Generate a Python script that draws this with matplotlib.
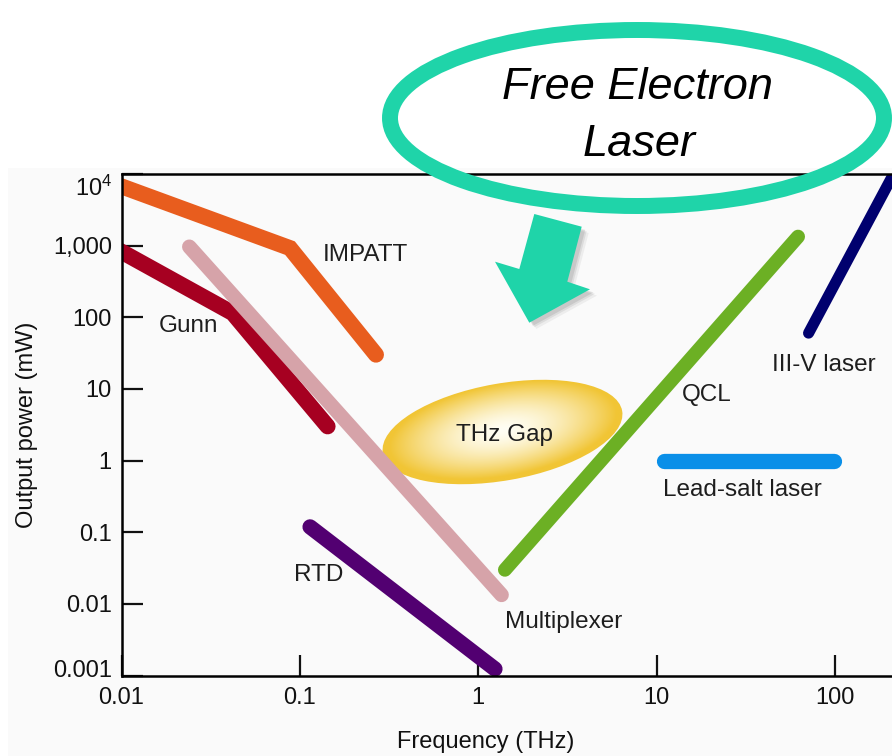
import numpy as np
import matplotlib
matplotlib.use('Agg')
import matplotlib.pyplot as plt
from matplotlib.patches import Ellipse, Polygon, Rectangle
from matplotlib.transforms import ScaledTranslation
from matplotlib.colors import to_rgb

plt.rcParams['font.family'] = ['Liberation Sans', 'DejaVu Sans']
plt.rcParams['mathtext.fontset'] = 'custom'
plt.rcParams['mathtext.rm'] = 'Liberation Sans'

# frequency (THz) / output power (mW) for each source
impatt_f = [0.0095, 0.088, 0.267]
impatt_p = [7000, 920, 30]
gunn_f = [0.0095, 0.042, 0.143]
gunn_p = [880, 114, 3.0]
mux_f = [0.024, 1.35]
mux_p = [960, 0.0134]
rtd_f = [0.114, 1.24]
rtd_p = [0.119, 0.00124]
qcl_f = [1.41, 62]
qcl_p = [0.030, 1330]
iiiv_f = [71, 231]
iiiv_p = [60, 14600]
lead_f = [11, 99]
lead_p = [1.0, 1.0]

x_ticks = [0.01, 0.1, 1, 10, 100]
x_labels = ['0.01', '0.1', '1', '10', '100']
y_ticks = [0.001, 0.01, 0.1, 1, 10, 100, 1000, 10000]
y_labels = ['0.001', '0.01', '0.1', '1', '10', '100', '1,000', r'$\mathregular{10^4}$']

TEAL = '#1fd4a9'
W, H = 892, 756

fig = plt.figure(figsize=(W / 100, H / 100), dpi=100)

# pixel-space layers behind and in front of the chart
under = fig.add_axes([0, 0, 1, 1], zorder=0)
under.set_xlim(0, W)
under.set_ylim(H, 0)
under.axis('off')
under.add_patch(Rectangle((8, 168), W, H, facecolor='#fafafa', edgecolor='none'))

# THz gap blob with a soft radial highlight
gap = Ellipse((502.5, 432), 243, 97, angle=-10, facecolor='none', edgecolor='none')
under.add_patch(gap)
gx, gy = np.meshgrid(np.linspace(375, 630, 300), np.linspace(375, 490, 150))
th = np.deg2rad(10)
dx, dy = gx - 503, gy - 430
u = dx * np.cos(th) - dy * np.sin(th)
v = dx * np.sin(th) + dy * np.cos(th)
r = np.sqrt((u / 121.5) ** 2 + (v / 48.5) ** 2)
s = np.clip(r / 0.95, 0, 1) ** 1.6
c0, c1 = np.array(to_rgb('#fffef4')), np.array(to_rgb('#f1c535'))
img = c0[None, None, :] * (1 - s[..., None]) + c1[None, None, :] * s[..., None]
im = under.imshow(img, extent=[375, 630, 490, 375], interpolation='bilinear', zorder=1)
im.set_clip_path(gap)
under.set_xlim(0, W)
under.set_ylim(H, 0)

ax = fig.add_axes([121.5 / W, 80.3 / H, 892 / W, 501.9 / H], zorder=1)
ax.patch.set_alpha(0)
ax.set_xscale('log')
ax.set_yscale('log')
ax.set_xlim(0.01, 1000)
ax.set_ylim(0.001, 10000)

lines = [
    (impatt_f, impatt_p, '#e85d1e', 11.5),
    (gunn_f, gunn_p, '#a60021', 11.5),
    (mux_f, mux_p, '#d6a3a9', 10.5),
    (rtd_f, rtd_p, '#520071', 11),
    (qcl_f, qcl_p, '#6cb024', 10),
    (iiiv_f, iiiv_p, '#00006e', 8),
    (lead_f, lead_p, '#0a8fe8', 11),
]
for f, p, col, lw in lines:
    ax.plot(f, p, color=col, lw=lw, solid_capstyle='round', solid_joinstyle='miter')

lab = dict(fontsize=17.5, color='#1e1e1e', va='center')
ax.text(0.1348, 738, 'IMPATT', **lab)
ax.text(0.0162, 76.6, 'Gunn', **lab)
ax.text(0.0927, 0.0254, 'RTD', **lab)
ax.text(1.41, 0.00566, 'Multiplexer', **lab)
ax.text(1.40, 2.28, 'THz Gap', ha='center', **lab)
ax.text(13.9, 8.2, 'QCL', **lab)
ax.text(44.2, 21.5, 'III-V laser', **lab)
ax.text(10.8, 0.389, 'Lead-salt laser', **lab)

ax.set_xticks(x_ticks)
ax.set_xticklabels(x_labels)
ax.set_yticks(y_ticks)
ax.set_yticklabels(y_labels)
ax.minorticks_off()
ax.tick_params(direction='in', length=15, width=1.6, labelsize=17, colors='#111111')
ax.tick_params(axis='x', pad=8)
ax.tick_params(axis='y', pad=7)
for sp in ax.spines.values():
    sp.set_linewidth(1.8)
ax.spines['right'].set_visible(False)

# nudge the end labels inward like the original artwork
yl = ax.get_yticklabels()
yl[0].set_transform(yl[0].get_transform() + ScaledTranslation(0, 0.07, fig.dpi_scale_trans))
yl[-1].set_transform(yl[-1].get_transform() + ScaledTranslation(0, -0.12, fig.dpi_scale_trans))

ax.set_xlabel('Frequency (THz)', fontsize=17, color='#111111', va='center')
ax.xaxis.set_label_coords(0.4086, -0.132)
ax.set_ylabel('Output power (mW)', fontsize=17, color='#111111', va='center')
ax.yaxis.set_label_coords(-0.106, 0.5)

over = fig.add_axes([0, 0, 1, 1], zorder=2)
over.set_xlim(0, W)
over.set_ylim(H, 0)
over.axis('off')

over.add_patch(Ellipse((637, 118), 494, 176, fill=False, edgecolor=TEAL, lw=11.5))
over.text(637.5, 99.3, 'Free Electron', fontsize=32.5, style='italic', ha='center', va='baseline', color='black')
over.text(638.8, 156, 'Laser', fontsize=32.5, style='italic', ha='center', va='baseline', color='black')

arrow = np.array([(534.3, 214), (581.7, 226.7), (567.3, 281.7), (590, 289.3),
                  (529.3, 322.7), (495, 261.7), (519.3, 269)])
for k, a in [(7, 0.05), (5, 0.07), (3.5, 0.09)]:
    over.add_patch(Polygon(arrow + [k, k * 0.9], closed=True, facecolor='black', alpha=a, edgecolor='none'))
over.add_patch(Polygon(arrow, closed=True, facecolor=TEAL, edgecolor='none'))

fig.savefig('out.png', dpi=100)
